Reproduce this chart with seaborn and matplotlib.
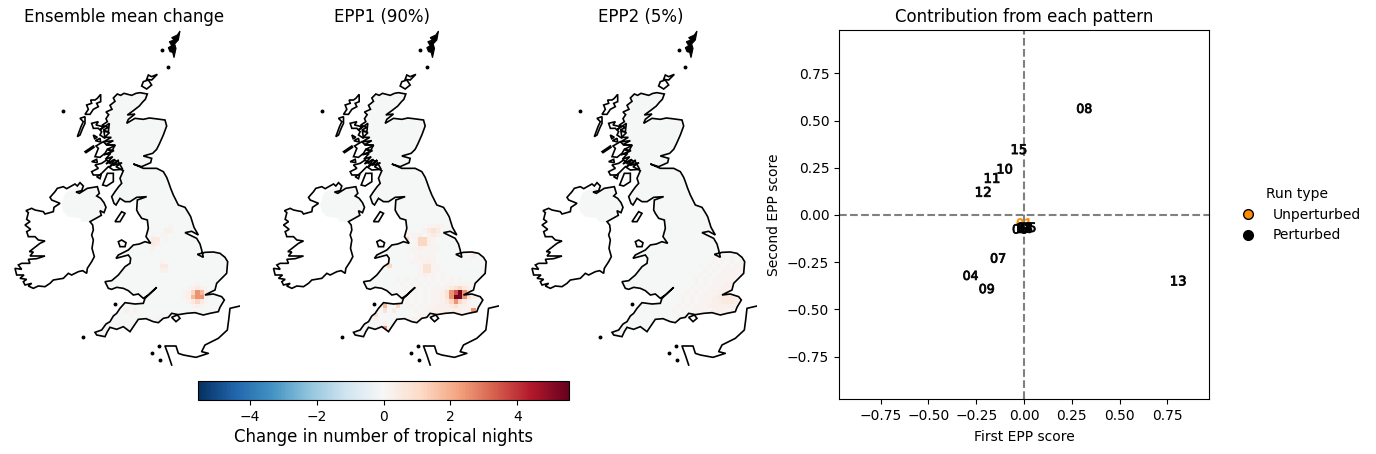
import numpy as np
import pandas as pd
import matplotlib
matplotlib.use("Agg")
import matplotlib.pyplot as plt
from matplotlib.lines import Line2D
from matplotlib.patches import Polygon
from matplotlib.cm import ScalarMappable
from matplotlib.colors import Normalize
import seaborn as sns

# ---------- map outlines (map units, 1/3 px) ----------
GB = [(352,222),(362,226),(372,220),(395,226),(408,220),(420,218),(442,222),(436,238),(428,246),(418,258),(400,272),(382,285),(405,282),(385,298),(380,310),(405,295),(430,298),(448,294),(465,296),(495,300),(500,318),(490,345),(478,372),(470,388),(458,400),(430,408),(455,415),(452,428),(425,440),(400,432),(430,445),(470,445),(490,455),(500,472),(505,485),(512,505),(520,525),(535,555),(555,562),(565,578),(572,590),(582,622),(595,645),(575,634),(555,638),(590,655),(600,672),(605,690),(610,712),(592,703),(615,697),(640,696),(660,700),(675,712),(683,725),(680,760),(665,775),(650,790),(645,810),(615,825),(640,822),(665,830),(673,840),(660,862),(655,875),(630,880),(610,885),(585,878),(560,880),(535,884),(515,880),(505,892),(490,895),(475,908),(460,905),(438,896),(415,898),(400,920),(390,935),(370,920),(350,928),(330,922),(322,935),(315,950),(290,945),(285,937),(305,930),(318,912),(330,905),(340,888),(350,880),(360,865),(375,848),(405,852),(430,850),(435,835),(470,802),(445,825),(430,835),(415,822),(400,825),(385,812),(370,805),(350,802),(335,808),(325,805),(315,785),(335,782),(355,765),(375,740),(390,730),(392,715),(385,705),(348,715),(355,705),(385,690),(400,675),(418,672),(435,665),(452,670),(438,650),(445,625),(442,600),(425,595),(415,580),(410,570),(412,540),(440,530),(410,532),(390,545),(375,545),(360,535),(348,555),(342,550),(335,530),(345,515),(356,500),(365,490),(360,475),(370,452),(348,440),(366,428),(340,436),(356,420),(328,442),(345,418),(318,432),(338,410),(316,418),(332,400),(312,404),(342,392),(322,388),(346,376),(318,374),(340,362),(310,366),(334,352),(314,352),(328,338),(310,330),(326,322),(306,316),(322,305),(318,296),(326,284),(318,276),(336,268),(330,256),(345,244),(340,234)]
IRELAND = [(155,540),(150,532),(165,515),(172,505),(190,500),(200,506),(225,492),(232,498),(240,488),(250,498),(245,512),(228,516),(238,520),(262,505),(292,500),(298,520),(290,528),(302,535),(312,548),(318,562),(312,578),(300,572),(304,586),(270,605),(278,615),(280,630),(275,645),(280,660),(276,685),(283,710),(275,725),(262,745),(260,760),(248,752),(235,755),(215,765),(205,760),(190,775),(160,780),(150,790),(135,800),(115,798),(100,805),(85,798),(95,790),(75,795),(70,785),(80,778),(60,775),(72,765),(50,765),(45,745),(65,748),(55,735),(65,730),(90,730),(85,718),(110,716),(135,708),(90,708),(100,696),(88,695),(120,670),(135,663),(115,660),(105,650),(85,650),(80,635),(92,628),(75,615),(90,605),(80,598),(85,578),(78,572),(95,565),(105,570),(130,575),(135,582),(160,575),(162,562),(180,550)]
NI_FILL = [(185,555),(195,520),(215,510),(245,500),(290,500),(300,535),(315,555),(315,578),(300,585),(270,605),(245,605),(240,595),(205,590),(190,575)]
ISLANDS = [
    [(345,605),(365,575),(375,580),(360,605)],
    [(355,665),(365,660),(378,668),(375,680),(360,680)],
    [(515,892),(528,905),(540,895),(532,885)],
    [(302,223),(292,235),(285,240),(272,240),(275,250),(260,255),(265,268),(255,283),(270,283),(280,268),(295,260),(290,250),(302,245)],
    [(255,290),(240,295),(250,305),(243,320),(232,350),(240,345),(248,325),(255,310)],
    [(275,310),(295,305),(288,315),(310,320),(300,330),(328,310),(325,335),(312,335),(315,355),(300,345),(305,335),(295,325),(280,325)],
    [(285,410),(295,385),(288,378),(310,365),(320,375),(345,375),(335,395),(322,388),(315,400),(300,412)],
    [(275,455),(295,445),(285,435),(305,430),(320,420),(330,430),(340,420),(355,425),(368,448),(340,450),(325,440),(310,455),(300,465),(280,465)],
    [(308,495),(322,460),(340,460),(340,485),(320,498)],
    [(255,395),(280,378),(282,382),(258,398)],
    [(280,345),(292,352),(284,356)],
    [(286,362),(300,355),(302,366)],
    [(275,425),(290,418),(292,428)],
    [(290,470),(304,462),(300,476)],
    [(472,163),(455,170),(445,165),(440,178),(455,180)],
    [(430,185),(445,180),(455,195),(440,207),(425,198)],
]
SOLID_ISLANDS = [
    [(540,33),(532,45),(515,53),(522,60),(508,65),(515,77),(505,83),(510,95),(518,97),(522,113),(528,85),(524,72),(535,60)],
]
DOTS = [(485,90),(505,142),(190,273),(250,952),(345,852),(478,978),(456,1000),(480,1020)]
FRANCE = [(720,858),(690,865),(686,900),(682,930),(655,955),(615,975),(605,995),(625,1000),(588,1012),(550,1005),(535,1000),(528,978),(495,978),(505,1005),(515,1035)]

# ---------- gridded change (level per cell, rows start at row 46, columns at col 22) ----------
LEVELS = [0.0, 0.15, 0.3, 0.5, 0.8, 1.2, 1.8, 2.5, 3.5, 5.3]
MEAN_ROWS = [
"................1",
"...............22",
"............1.11",
"............33.1",
"............32",
"............2",
"..",
"..",
"..............1",
"..............33",
"..............22",
"..",
"..",
"......................1",
"....................12321",
"...................125762",
"...................126772",
"....................13531",
".....................121",
"......2.2.",
".......1......1.1.1.1.1.1",
"...........1.1.1...2....2",
"....1.......2",
"..2",
]
EPP1_ROWS = [
"................1121",
"...............2343",
"...........1112.232",
"...........5.15521",
"...........1.15521",
"............1121111",
".............11111........3",
".............12111........2",
"............111221",
".......5......14411...........6",
"..............14411",
"..............1211.1",
".........1.1.1.1.1.1.1.1",
"........1.1.1.1.1.1.111111",
"...........1.1.1.111234532",
"...........1.1.1.1124789742",
".........3.1.1.1.1124799742",
"......2..3.1.1.1.112357531",
"......6..5..1.1.11222342211",
"......4.3....1.112222222117",
"....4.........1122333333237",
"..2.2.......1122273332",
"7.....2.....1.2",
"..2...7",
"...7",
]
EPP2_ROWS = [
"..",
"..",
"..",
"..",
"..",
"..",
"...........................1",
"......................1.1.1.1",
"......................1.1.1.1.",
"...................1.1.1.1.11",
"....................1.1.11111",
"...................1.1.111111",
"..................1.1.11111111",
"..................1.1.11122211",
".................1.1.111222211",
"................1.1.1112233211",
"...............1.1.11123333211",
"...............1.1.11122333211",
"..............1.1.111222222211",
".............1.1.1111122211",
"..............1.1.1111111",
"................1.1.1.1",
"....",
"..",
"..",
]
GRID_SHAPE = (80, 60)
GRID_ORIGIN = (46, 22)
CELL = 13.3
TITLES = ["Ensemble mean change", "EPP1 (90%)", "EPP2 (5%)"]

# ---------- scatter ----------
RUN_IDS = ["01","05","06","02","03","14","08","15","10","11","12","07","04","09","13"]
RUN_TYPE = ["Unperturbed"] + ["Perturbed"]*14
EPP_FIRST = [0.0,0.022,-0.021,0.003,0.004,0.002,0.315,-0.026,-0.10,-0.167,-0.213,-0.136,-0.279,-0.195,0.807]
EPP_SECOND = [-0.044,-0.065,-0.074,-0.065,-0.068,-0.070,0.565,0.348,0.245,0.196,0.123,-0.228,-0.32,-0.39,-0.348]
PALETTE = {"Unperturbed": "darkorange", "Perturbed": "black"}

W, H = 1376, 454
fig = plt.figure(figsize=(W/100, H/100), dpi=100)
def px_axes(x0, y0, x1, y1):
    return fig.add_axes([x0/W, 1-y1/H, (x1-x0)/W, (y1-y0)/H])

def to_cells(pts):
    return np.array(pts, dtype=float)/CELL

vlim = 5.55
for k, (title, rows) in enumerate(zip(TITLES, [MEAN_ROWS, EPP1_ROWS, EPP2_ROWS])):
    off = 258.5*k
    ax = px_axes(8+off, 30, 240+off, 366)
    field = np.full(GRID_SHAPE, np.nan)
    for i, row in enumerate(rows):
        for j, ch in enumerate(row):
            if ch != ".":
                field[GRID_ORIGIN[0]+i, GRID_ORIGIN[1]+j] = LEVELS[int(ch)]
    sns.heatmap(field, ax=ax, cmap="RdBu_r", vmin=-vlim, vmax=vlim, cbar=False,
                mask=np.isnan(field), xticklabels=False, yticklabels=False)
    land_c = "#f5f6f6"
    ax.add_patch(Polygon(to_cells(NI_FILL), closed=True, fc=land_c, ec="none", zorder=0.5))
    ax.add_patch(Polygon(to_cells(GB), closed=True, fc=land_c, ec="none", zorder=0.5))
    clip = Polygon(to_cells(GB), closed=True, fc="none", ec="none", transform=ax.transData)
    ax.add_patch(clip)
    ax.collections[0].set_clip_path(clip)
    ax.collections[0].set_zorder(1)
    lw = 1.2
    for poly in [GB, IRELAND] + ISLANDS:
        ax.add_patch(Polygon(to_cells(poly), closed=True, fc="none", ec="black", lw=lw, zorder=3))
    for poly in SOLID_ISLANDS:
        ax.add_patch(Polygon(to_cells(poly), closed=True, fc="black", ec="black", lw=0.8, zorder=3))
    fr = to_cells(FRANCE)
    ax.plot(fr[:,0], fr[:,1], color="black", lw=lw, zorder=3)
    d = to_cells(DOTS)
    ax.plot(d[:,0], d[:,1], ls="", marker="o", ms=1.8, color="black", zorder=3)
    ax.set_xlim(24/CELL, 720/CELL)
    ax.set_ylim(1038/CELL, 30/CELL)
    ax.set_axis_off()
    ax.set_title(title, fontsize=12)

cax = px_axes(198, 381, 569, 400)
cb = fig.colorbar(ScalarMappable(Normalize(-vlim, vlim), "RdBu_r"), cax=cax, orientation="horizontal")
cb.set_ticks([-4,-2,0,2,4])
cb.set_label("Change in number of tropical nights", fontsize=12, labelpad=3)

ax = px_axes(839, 30, 1209, 399)
df = pd.DataFrame({"first": EPP_FIRST, "second": EPP_SECOND, "type": RUN_TYPE, "run": RUN_IDS})
sns.scatterplot(data=df, x="first", y="second", hue="type", palette=PALETTE, style="run",
                markers={r: f"${r}$" for r in RUN_IDS}, s=105, linewidth=0.6, edgecolor="face",
                legend=False, ax=ax, zorder=3)
ax.axhline(0, color="gray", ls="--", lw=1.5, zorder=1)
ax.axvline(0, color="gray", ls="--", lw=1.5, zorder=1)
ax.set_xlim(-0.967, 0.967)
ax.set_ylim(-0.975, 0.980)
ax.set_xticks([-0.75,-0.5,-0.25,0,0.25,0.5,0.75])
ax.set_yticks([-0.75,-0.5,-0.25,0,0.25,0.5,0.75])
ax.set_xlabel("First EPP score", labelpad=5)
ax.set_ylabel("Second EPP score")
ax.set_title("Contribution from each pattern", fontsize=12)
handles = [Line2D([], [], ls="", marker="o", ms=7, mfc=PALETTE[t], mec="black", label=t)
           for t in ["Unperturbed", "Perturbed"]]
ax.legend(handles=handles, title="Run type", frameon=False, loc="center left",
          bbox_to_anchor=(1.0335, 0.5))
fig.savefig("out.png", dpi=100)
